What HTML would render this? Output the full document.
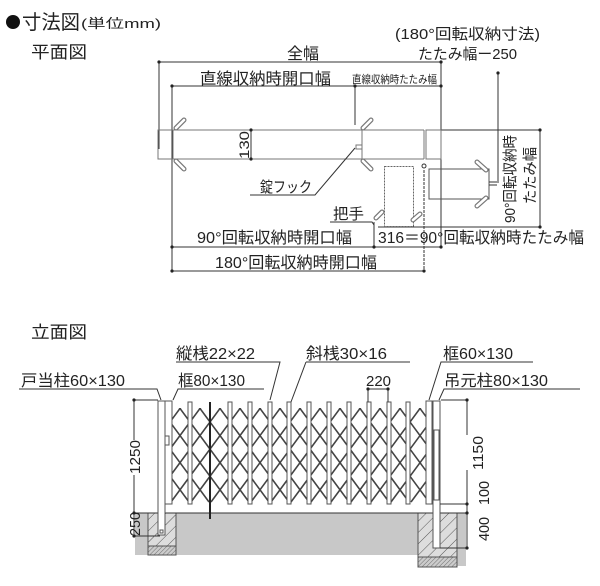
<!DOCTYPE html>
<html><head><meta charset="utf-8"><style>
html,body{margin:0;padding:0;background:#fff;}
svg{display:block;}
text{font-family:"Liberation Sans","Noto Sans CJK JP",sans-serif;fill:#222;}
</style></head><body>
<svg width="600" height="586" viewBox="0 0 600 586" xmlns="http://www.w3.org/2000/svg">
<defs>
<pattern id="h1" width="8" height="8" patternUnits="userSpaceOnUse" patternTransform="rotate(45)"><rect width="8" height="8" fill="#ddd"/><line x1="0" y1="0" x2="0" y2="8" stroke="#555" stroke-width="1"/></pattern>
<pattern id="h2" width="3" height="3" patternUnits="userSpaceOnUse" patternTransform="rotate(45)"><rect width="3" height="3" fill="#ccc"/><line x1="0" y1="0" x2="0" y2="3" stroke="#555" stroke-width="0.8"/></pattern>
<clipPath id="lat"><rect x="172" y="408" width="254" height="96"/></clipPath>
</defs>
<circle cx="13" cy="22" r="7" fill="#111"/>
<text x="22" y="29" font-size="20" textLength="58" lengthAdjust="spacingAndGlyphs">寸法図</text>
<text x="81" y="28" font-size="13" textLength="80" lengthAdjust="spacingAndGlyphs">(単位mm)</text>
<text x="31" y="58" font-size="17" textLength="56" lengthAdjust="spacingAndGlyphs">平面図</text>

<g stroke="#333" stroke-width="1" fill="none">
<line x1="159" y1="62" x2="441" y2="62"/>
<line x1="159" y1="62" x2="159" y2="149"/>
<line x1="172" y1="86" x2="441" y2="86"/>
<line x1="172" y1="86" x2="172" y2="271"/>
<line x1="355" y1="86" x2="355" y2="125"/>
<line x1="441" y1="62" x2="441" y2="247"/>
<line x1="498" y1="73" x2="498" y2="183"/>
<line x1="441" y1="130" x2="540" y2="130"/>
<line x1="540" y1="130" x2="540" y2="227"/>
<line x1="378" y1="227" x2="540" y2="227"/>
<line x1="172" y1="247" x2="441" y2="247"/>
<line x1="374" y1="222" x2="374" y2="247"/>
<line x1="172" y1="271" x2="424" y2="271"/>
<line x1="424" y1="170" x2="424" y2="271" stroke-dasharray="3,1"/>
<line x1="251" y1="130" x2="251" y2="159"/>
<rect x="158" y="130" width="15" height="29" stroke="#777"/>
<rect x="426" y="130" width="15" height="29" stroke="#777"/>
<line x1="173" y1="130" x2="424" y2="130" stroke="#777"/>
<line x1="173" y1="159" x2="424" y2="159" stroke="#777"/>
<line x1="362" y1="130" x2="362" y2="159" stroke="#777"/>
<line x1="424" y1="130" x2="424" y2="159" stroke="#777"/>
<rect x="356" y="145" width="6" height="4" stroke="#777"/>
<rect x="384.5" y="166.5" width="29" height="60" stroke="#666" stroke-dasharray="2,1"/>
<circle cx="424" cy="166" r="2"/>
<rect x="429" y="169" width="60" height="30" stroke="#555"/>
<line x1="489" y1="182" x2="497" y2="182"/><line x1="489" y1="185" x2="497" y2="185"/>
<polyline points="250,195 315,195 355,148"/>
<polyline points="330,222 372,222 374,225"/>
</g>
<g stroke="#777" stroke-width="5" stroke-linecap="round" fill="none">
<path d="M176,128 L184,120 M176,161 L184,169 M363,128 L371,120 M363,161 L371,169 M477,162 L486,170 M477,206 L486,198 M376,218 L382,212 M413,220 L420,214"/>
</g>
<g stroke="#fff" stroke-width="2.6" stroke-linecap="round" fill="none">
<path d="M176,128 L184,120 M176,161 L184,169 M363,128 L371,120 M363,161 L371,169 M477,162 L486,170 M477,206 L486,198 M376,218 L382,212 M413,220 L420,214"/>
</g>
<g fill="#222">
<circle cx="159" cy="62" r="1.6"/><circle cx="441" cy="62" r="1.6"/><circle cx="172" cy="86" r="1.6"/><circle cx="355" cy="86" r="1.6"/><circle cx="441" cy="86" r="1.6"/><circle cx="498" cy="73" r="1.6"/><circle cx="540" cy="130" r="1.6"/><circle cx="540" cy="227" r="1.6"/><circle cx="251" cy="130" r="1.6"/><circle cx="251" cy="159" r="1.6"/><circle cx="172" cy="247" r="1.6"/><circle cx="374" cy="247" r="1.6"/><circle cx="441" cy="247" r="1.6"/><circle cx="172" cy="271" r="1.6"/><circle cx="424" cy="271" r="1.6"/>
</g>
<text x="287" y="59" font-size="16" textLength="32" lengthAdjust="spacingAndGlyphs">全幅</text>
<text x="395" y="39" font-size="15" textLength="145" lengthAdjust="spacingAndGlyphs">(180°回転収納寸法)</text>
<text x="418" y="59" font-size="15" textLength="99" lengthAdjust="spacingAndGlyphs">たたみ幅ー250</text>
<text x="200" y="84" font-size="16" textLength="131" lengthAdjust="spacingAndGlyphs">直線収納時開口幅</text>
<text x="352" y="83" font-size="11" textLength="85" lengthAdjust="spacingAndGlyphs">直線収納時たたみ幅</text>
<text transform="translate(249,159) rotate(-90)" font-size="14" textLength="28" lengthAdjust="spacingAndGlyphs">130</text>
<text x="260" y="192" font-size="15" textLength="52" lengthAdjust="spacingAndGlyphs">錠フック</text>
<text x="333" y="219" font-size="15" textLength="31" lengthAdjust="spacingAndGlyphs">把手</text>
<text transform="translate(515,223) rotate(-90)" font-size="15" textLength="88" lengthAdjust="spacingAndGlyphs">90°回転収納時</text>
<text transform="translate(535,204) rotate(-90)" font-size="15" textLength="57" lengthAdjust="spacingAndGlyphs">たたみ幅</text>
<text x="197" y="243" font-size="16" textLength="155" lengthAdjust="spacingAndGlyphs">90°回転収納時開口幅</text>
<text x="378" y="243" font-size="16" textLength="206" lengthAdjust="spacingAndGlyphs">316＝90°回転収納時たたみ幅</text>
<text x="215" y="268" font-size="16" textLength="162" lengthAdjust="spacingAndGlyphs">180°回転収納時開口幅</text>

<text x="31" y="338" font-size="17" textLength="56" lengthAdjust="spacingAndGlyphs">立面図</text>
<rect x="135" y="513" width="331" height="42" fill="#c8c8c8"/>
<rect x="457" y="513" width="9" height="53" fill="#c8c8c8"/>
<rect x="148" y="513" width="28" height="33" fill="url(#h1)" stroke="#555"/>
<rect x="148" y="546" width="28" height="9" fill="url(#h2)" stroke="#555"/>
<rect x="418" y="513" width="39" height="44" fill="url(#h1)" stroke="#555"/>
<rect x="418" y="557" width="39" height="10" fill="url(#h2)" stroke="#555"/>
<line x1="134" y1="513" x2="467" y2="513" stroke="#333"/>
<g clip-path="url(#lat)" stroke="#444" stroke-width="1.6">
<path d="M51,502 L169,342 M71,502 L189,342 M91,502 L209,342 M111,502 L229,342 M131,502 L249,342 M151,502 L269,342 M171,502 L289,342 M191,502 L309,342 M211,502 L329,342 M231,502 L349,342 M251,502 L369,342 M271,502 L389,342 M291,502 L409,342 M311,502 L429,342 M331,502 L449,342 M351,502 L469,342 M371,502 L489,342 M391,502 L509,342 M411,502 L529,342 M431,502 L549,342"/>
<path d="M51,342 L169,502 M71,342 L189,502 M91,342 L209,502 M111,342 L229,502 M131,342 L249,502 M151,342 L269,502 M171,342 L289,502 M191,342 L309,502 M211,342 L329,502 M231,342 L349,502 M251,342 L369,502 M271,342 L389,502 M291,342 L409,502 M311,342 L429,502 M331,342 L449,502 M351,342 L469,502 M371,342 L489,502 M391,342 L509,502 M411,342 L529,502 M431,342 L549,502"/>
</g>
<g fill="#fff" stroke="#555" stroke-width="1">
<rect x="188" y="402" width="4" height="102"/><rect x="228" y="402" width="4" height="102"/><rect x="248" y="402" width="4" height="102"/><rect x="268" y="402" width="4" height="102"/><rect x="287" y="402" width="4" height="102"/><rect x="307" y="402" width="4" height="102"/><rect x="327" y="402" width="4" height="102"/><rect x="347" y="402" width="4" height="102"/><rect x="367" y="402" width="4" height="102"/><rect x="387" y="402" width="4" height="102"/><rect x="406" y="402" width="4" height="102"/>
<rect x="158" y="401" width="7" height="134"/><rect x="165" y="401" width="7" height="103"/>
<rect x="165" y="436" width="4" height="9"/>
<rect x="426" y="401" width="6" height="103"/><rect x="433" y="401" width="7" height="147"/>
<rect x="434" y="430" width="5" height="70"/>
<rect x="160" y="530" width="3" height="3"/>
</g>
<line x1="210" y1="402" x2="210" y2="519" stroke="#222" stroke-width="2"/>
<g stroke="#333" stroke-width="1" fill="none">
<line x1="134" y1="400" x2="134" y2="440"/><line x1="134" y1="475" x2="134" y2="536"/>
<line x1="134" y1="400" x2="158" y2="400"/><line x1="134" y1="536" x2="160" y2="536"/>
<line x1="467" y1="400" x2="467" y2="435"/><line x1="467" y1="470" x2="467" y2="548"/>
<line x1="441" y1="400" x2="467" y2="400"/><line x1="440" y1="504" x2="467" y2="504"/><line x1="440" y1="548" x2="467" y2="548"/>
<line x1="368" y1="389" x2="388" y2="389"/><line x1="368" y1="389" x2="368" y2="402"/><line x1="388" y1="389" x2="388" y2="402"/>
<polyline points="176,362 280,362 270,400"/>
<polyline points="306,362 410,362"/><line x1="306" y1="362" x2="291" y2="402"/>
<polyline points="533,362 441,362 429,400"/>
<polyline points="19,389 157,389 161,400"/>
<polyline points="264,389 178,389 173,400"/>
<polyline points="580,389 444,389 439,400"/>
</g>
<g fill="#222">
<circle cx="134" cy="400" r="1.6"/><circle cx="134" cy="513" r="1.6"/><circle cx="134" cy="536" r="1.6"/>
<circle cx="467" cy="400" r="1.6"/><circle cx="467" cy="504" r="1.6"/><circle cx="467" cy="513" r="1.6"/><circle cx="467" cy="548" r="1.6"/>
<circle cx="368" cy="389" r="1.6"/><circle cx="388" cy="389" r="1.6"/>
</g>
<text x="176" y="359" font-size="16" textLength="79" lengthAdjust="spacingAndGlyphs">縦桟22×22</text>
<text x="306" y="359" font-size="16" textLength="81" lengthAdjust="spacingAndGlyphs">斜桟30×16</text>
<text x="443" y="359" font-size="16" textLength="70" lengthAdjust="spacingAndGlyphs">框60×130</text>
<text x="21" y="386" font-size="16" textLength="104" lengthAdjust="spacingAndGlyphs">戸当柱60×130</text>
<text x="178" y="386" font-size="16" textLength="67" lengthAdjust="spacingAndGlyphs">框80×130</text>
<text x="366" y="386" font-size="15" textLength="25" lengthAdjust="spacingAndGlyphs">220</text>
<text x="444" y="386" font-size="16" textLength="104" lengthAdjust="spacingAndGlyphs">吊元柱80×130</text>
<text transform="translate(140,474) rotate(-90)" font-size="15" textLength="34" lengthAdjust="spacingAndGlyphs">1250</text>
<text transform="translate(140,536) rotate(-90)" font-size="15" textLength="24" lengthAdjust="spacingAndGlyphs">250</text>
<text transform="translate(483,470) rotate(-90)" font-size="15" textLength="34" lengthAdjust="spacingAndGlyphs">1150</text>
<text transform="translate(489,505) rotate(-90)" font-size="15" textLength="24" lengthAdjust="spacingAndGlyphs">100</text>
<text transform="translate(489,541) rotate(-90)" font-size="15" textLength="24" lengthAdjust="spacingAndGlyphs">400</text>
</svg>
</body></html>
